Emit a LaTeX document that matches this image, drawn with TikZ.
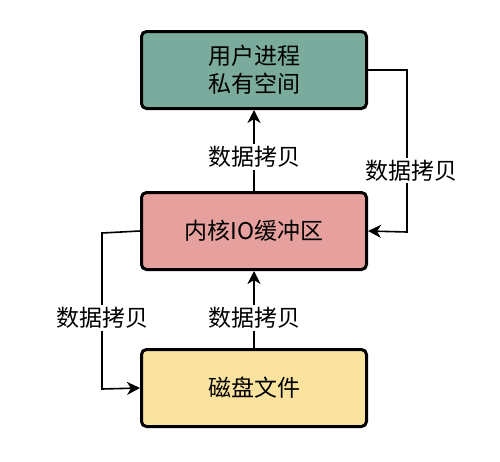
\documentclass[tikz,border=0pt]{standalone}
\usepackage{fontspec}
\newfontfamily\cjk{Noto Sans CJK SC}
\usetikzlibrary{arrows.meta}
\definecolor{topc}{HTML}{7AAB9D}
\definecolor{midc}{HTML}{E6A09D}
\definecolor{botc}{HTML}{FAE39E}
\begin{document}
\begin{tikzpicture}[x=1pt,y=-1pt,
  boxst/.style={draw=black,line width=3pt,rounded corners=5pt,minimum width=225pt,minimum height=77pt,inner sep=0pt,font=\cjk\fontsize{23}{28}\selectfont,align=center},
  conn/.style={line width=1.6pt,-{Stealth[length=13pt,width=13pt,inset=4pt]}},
  lbl/.style={fill=white,inner sep=2pt,font=\cjk\fontsize{23}{27}\selectfont}]
\useasboundingbox (0,0) rectangle (500,461);
\node[boxst,fill=topc] (user) at (254,70) {用户进程\\私有空间};
\node[boxst,fill=midc] (kern) at (254,231) {内核IO缓冲区};
\node[boxst,fill=botc] (disk) at (254,388) {磁盘文件};
\coordinate (r1) at (407,70);
\coordinate (r2) at (407,232);
\coordinate (l1) at (102,233);
\coordinate (l2) at (102,389);
\draw[conn] (kern.north) -- node[lbl,pos=0.42] {数据拷贝} (user.south);
\draw[conn] (disk.north) -- node[lbl,pos=0.39] {数据拷贝} (kern.south);
\draw[conn] (user.east) -- (r1) -- node[lbl,pos=0.62,xshift=4pt] {数据拷贝} (r2) -- (kern.east);
\draw[conn] (kern.west) -- (l1) -- node[lbl,pos=0.545] {数据拷贝} (l2) -- (disk.west);
\end{tikzpicture}
\end{document}
